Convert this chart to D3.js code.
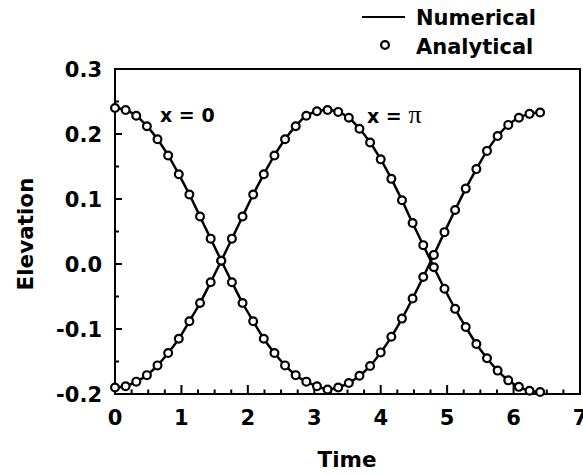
<!DOCTYPE html>
<html>
<head>
<meta charset="utf-8">
<script src="https://cdn.jsdelivr.net/npm/d3@7"></script>
<style>
  html, body { margin: 0; padding: 0; background: #fff; }
  svg { display: block; }
  text { font-family: "DejaVu Sans", "Liberation Sans", Arial, sans-serif; font-weight: bold; fill: #000; }
</style>
</head>
<body>
<svg id="chart" width="583" height="474"></svg>
<script>
// ---- data ----
const times = [0.00,0.16,0.32,0.48,0.64,0.80,0.96,1.12,1.28,1.44,1.60,1.76,1.92,2.08,2.24,2.40,2.56,2.72,2.88,3.04,
               3.20,3.36,3.52,3.68,3.84,4.00,4.16,4.32,4.48,4.64,4.80,4.96,5.12,5.28,5.44,5.60,5.76,5.92,6.08,6.24,6.40];
const elevX0 = [0.240,0.237,0.228,0.212,0.192,0.167,0.138,0.107,0.073,0.039,0.005,-0.028,-0.060,-0.088,-0.115,-0.137,-0.156,-0.171,-0.181,-0.188,
                -0.193,-0.190,-0.183,-0.172,-0.157,-0.136,-0.112,-0.084,-0.053,-0.020,0.014,0.049,0.083,0.116,0.146,0.174,0.197,0.214,0.225,0.231,0.233];
const elevXpi = [-0.190,-0.188,-0.181,-0.171,-0.156,-0.137,-0.115,-0.088,-0.060,-0.028,0.005,0.039,0.073,0.107,0.138,0.167,0.192,0.212,0.228,0.235,
                 0.237,0.234,0.225,0.208,0.187,0.161,0.131,0.098,0.063,0.029,-0.005,-0.038,-0.069,-0.097,-0.123,-0.145,-0.164,-0.179,-0.189,-0.195,-0.197];
const xTicks = [0,1,2,3,4,5,6,7];
const yTicks = [-0.2,-0.1,0.0,0.1,0.2,0.3];
const yTickLabels = ["-0.2","-0.1","0.0","0.1","0.2","0.3"];
const legendLabels = ["Numerical","Analytical"];
const curveLabels = ["x = 0","x = "];

// ---- layout ----
const svg = d3.select("#chart");
const x = d3.scaleLinear().domain([0,7]).range([115,580]);
const y = d3.scaleLinear().domain([-0.2,0.3]).range([394,69]);

// frame
svg.append("rect")
  .attr("x", x(0)).attr("y", y(0.3))
  .attr("width", x(7)-x(0)).attr("height", y(-0.2)-y(0.3))
  .attr("fill","none").attr("stroke","#000").attr("stroke-width",2);

// x axis ticks (inward)
const xMinor = d3.range(0, 7.001, 0.25);
svg.append("g").selectAll("line").data(xMinor).join("line")
  .attr("x1", d => x(d)).attr("x2", d => x(d))
  .attr("y1", y(-0.2)).attr("y2", d => y(-0.2) - (Math.abs(d - Math.round(d)) < 1e-6 ? 9 : 4.5))
  .attr("stroke","#000").attr("stroke-width",2);

// y axis ticks (inward)
const yMinor = d3.range(-0.2, 0.3001, 0.05);
svg.append("g").selectAll("line").data(yMinor).join("line")
  .attr("y1", d => y(d)).attr("y2", d => y(d))
  .attr("x1", x(0)).attr("x2", d => x(0) + (Math.abs(d*10 - Math.round(d*10)) < 1e-6 ? 7 : 4))
  .attr("stroke","#000").attr("stroke-width",2);

// tick labels
svg.append("g").selectAll("text").data(xTicks).join("text")
  .attr("x", d => x(d)).attr("y", 425)
  .attr("text-anchor","middle").attr("font-size",21)
  .text(d => d);
svg.append("g").selectAll("text").data(yTicks).join("text")
  .attr("x", 102).attr("y", d => y(d) + 8)
  .attr("text-anchor","end").attr("font-size",21)
  .text((d,i) => yTickLabels[i]);

// axis titles
svg.append("text").attr("x", 347).attr("y", 467)
  .attr("text-anchor","middle").attr("font-size",21.5).text("Time");
svg.append("text").attr("transform","translate(33,234) rotate(-90)")
  .attr("text-anchor","middle").attr("font-size",21.5).text("Elevation");

// curves
const line = d3.line().x((d,i) => x(times[i])).y(d => y(d)).curve(d3.curveCatmullRom.alpha(0.5));
[elevX0, elevXpi].forEach(series => {
  svg.append("path").datum(series).attr("d", line)
    .attr("fill","none").attr("stroke","#000").attr("stroke-width",2.5);
});
[elevX0, elevXpi].forEach(series => {
  svg.append("g").selectAll("circle").data(series).join("circle")
    .attr("cx", (d,i) => x(times[i])).attr("cy", d => y(d)).attr("r", 3.9)
    .attr("fill","#fff").attr("stroke","#000").attr("stroke-width",2.2);
});

// curve labels
svg.append("text").attr("x",160).attr("y",122).attr("font-size",19).text(curveLabels[0]);
const t2 = svg.append("text").attr("x",367).attr("y",123).attr("font-size",19).text(curveLabels[1]);
t2.append("tspan").attr("font-family","'Liberation Serif', 'Times New Roman', serif")
  .attr("font-weight","normal").attr("font-size",26).text("π");

// legend
svg.append("line").attr("x1",362).attr("x2",405).attr("y1",17).attr("y2",17)
  .attr("stroke","#000").attr("stroke-width",2);
svg.append("text").attr("x",416).attr("y",25).attr("font-size",21).text(legendLabels[0]);
svg.append("circle").attr("cx",385).attr("cy",45).attr("r",3.9)
  .attr("fill","#fff").attr("stroke","#000").attr("stroke-width",2.2);
svg.append("text").attr("x",416).attr("y",54).attr("font-size",21).text(legendLabels[1]);
</script>
</body>
</html>
